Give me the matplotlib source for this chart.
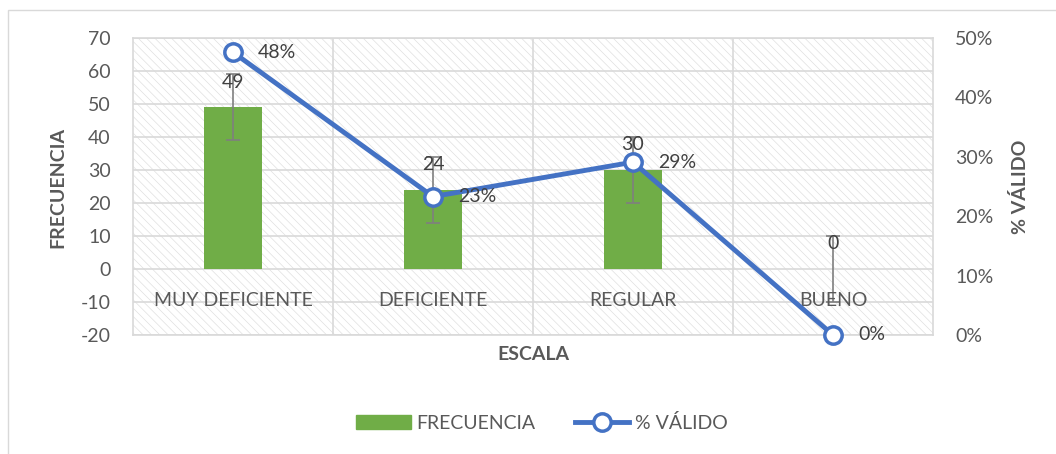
import matplotlib
import matplotlib.pyplot as plt
from matplotlib.patches import Rectangle
from matplotlib.ticker import PercentFormatter

matplotlib.rcParams["font.family"] = ["Lato", "DejaVu Sans"]
matplotlib.rcParams["axes.unicode_minus"] = False
matplotlib.rcParams["hatch.linewidth"] = 0.5
matplotlib.rcParams["hatch.color"] = "#E0E0E0"

# datos
categorias = ["MUY DEFICIENTE", "DEFICIENTE", "REGULAR", "BUENO"]
frecuencia = [49, 24, 30, 0]
error_frec = [10, 10, 10, 10]
pct_valido = [0.476, 0.233, 0.291, 0.0]
pct_labels = ["48%", "23%", "29%", "0%"]

VERDE = "#70AD47"
AZUL = "#4472C4"
GRIS_TXT = "#595959"
GRIS_GRID = "#D9D9D9"
FS = 14

fig = plt.figure(figsize=(10.56, 4.54), dpi=100)
ax = fig.add_axes([133 / 1056, 1 - 335 / 454, 800 / 1056, 297 / 454])

# marco exterior del gráfico
fig.patches.append(Rectangle((8 / 1056, -0.1), 1.2, 1.1 - 10 / 454,
                             transform=fig.transFigure, fill=False,
                             edgecolor=GRIS_GRID, linewidth=1))

# fondo rayado del área de trazado
ax.add_patch(Rectangle((0, 0), 1, 1, transform=ax.transAxes, facecolor="white",
                       hatch="\\\\\\\\", edgecolor="#E0E0E0", linewidth=0, zorder=0))

x = list(range(len(categorias)))
ax.bar(x, frecuencia, width=0.29, color=VERDE, zorder=3)
ax.errorbar(x, frecuencia, yerr=error_frec, fmt="none", ecolor="#7F7F7F",
            elinewidth=1.2, capsize=5, capthick=1.2, zorder=4)

ax.set_xlim(-0.5, 3.5)
ax.set_ylim(-20, 70)
ax.set_yticks(range(-20, 71, 10))
ax.yaxis.grid(True, color=GRIS_GRID, linewidth=1.2, zorder=1)
for xv in [0.5, 1.5, 2.5]:
    ax.axvline(xv, color=GRIS_GRID, linewidth=1.2, zorder=1)
ax.set_axisbelow(True)
ax.set_xticks([])
ax.tick_params(axis="y", length=0, pad=16, labelsize=FS, labelcolor=GRIS_TXT)
for s in ax.spines.values():
    s.set_color(GRIS_GRID)
    s.set_linewidth(1.2)

for xi, lab in zip(x, categorias):
    ax.annotate(lab, (xi, 0), xytext=(0, -23), textcoords="offset points",
                ha="center", va="center", fontsize=FS, color=GRIS_TXT, zorder=6)
for xi, v in zip(x, frecuencia):
    ax.annotate(str(v), (xi, v), xytext=(0, 12), textcoords="offset points",
                ha="center", va="bottom", fontsize=FS, color="#404040", zorder=6)

ax2 = ax.twinx()
ax2.set_position(ax.get_position())
ax2.plot(x, pct_valido, color=AZUL, linewidth=3.5, marker="o", markersize=12.5,
         markerfacecolor="white", markeredgecolor=AZUL, markeredgewidth=2.5,
         zorder=5, clip_on=False, label="% VÁLIDO")
ax2.set_ylim(0, 0.5)
ax2.set_yticks([0, 0.1, 0.2, 0.3, 0.4, 0.5])
ax2.yaxis.set_major_formatter(PercentFormatter(1.0, decimals=0))
ax2.tick_params(axis="y", length=0, pad=16, labelsize=FS, labelcolor=GRIS_TXT)
for s in ax2.spines.values():
    s.set_visible(False)
for xi, v, lab in zip(x, pct_valido, pct_labels):
    ax2.annotate(lab, (xi, v), xytext=(18, 0), textcoords="offset points",
                 ha="left", va="center", fontsize=FS, color="#404040", zorder=6)

fig.text(58 / 1056, 1 - 187 / 454, "FRECUENCIA", rotation=90, ha="center",
         va="center", fontsize=FS, fontweight="bold", color=GRIS_TXT)
fig.text(1020 / 1056, 1 - 187 / 454, "% VÁLIDO", rotation=90, ha="center",
         va="center", fontsize=FS, fontweight="bold", color=GRIS_TXT)
fig.text(533 / 1056, 1 - 355 / 454, "ESCALA", ha="center", va="center",
         fontsize=FS, fontweight="bold", color=GRIS_TXT)

# leyenda
h_bar = Rectangle((0, 0), 1, 1, color=VERDE)
h_line = ax2.get_lines()[0]
fig.legend([h_bar, h_line], ["FRECUENCIA", "% VÁLIDO"], loc="center",
           bbox_to_anchor=(542 / 1056, 1 - 423 / 454), ncol=2, frameon=False,
           fontsize=FS, labelcolor=GRIS_TXT, handlelength=2.8,
           handletextpad=0.3, columnspacing=2.0)

fig.savefig("out.png", dpi=100)
